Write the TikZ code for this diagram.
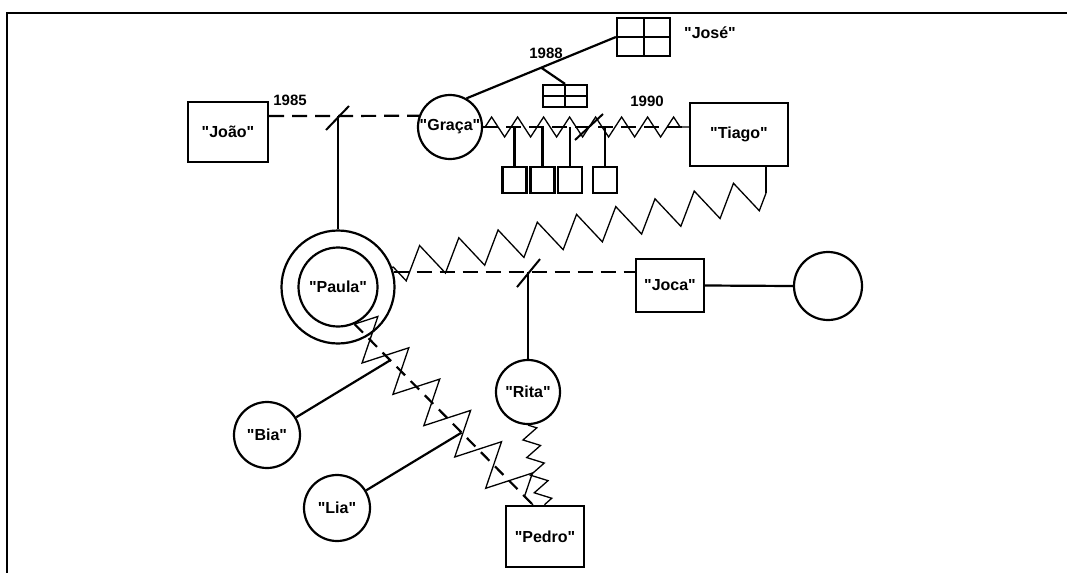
\documentclass[tikz,border=0pt]{standalone}
\usepackage{fontspec}
\newfontfamily\lblfont{Liberation Sans}
\usetikzlibrary{calc,decorations.pathmorphing}

\begin{document}
\begin{tikzpicture}[
  x=1pt, y=-1pt,
  font=\lblfont\bfseries\fontsize{16}{18}\selectfont,
  line width=2.2pt,
  man/.style={draw, rectangle, inner sep=0pt},
  woman/.style={draw, circle, inner sep=0pt},
  kid/.style={man, minimum width=24pt, minimum height=26pt},
  quad/.style={man, path picture={\draw[line width=2pt]
      (path picture bounding box.north) -- (path picture bounding box.south)
      (path picture bounding box.west) -- (path picture bounding box.east);}},
  marr/.style={dash pattern=on 15pt off 8pt},
  marrb/.style={dash pattern=on 12pt off 8pt},
  splitmark/.style={line width=2pt},
  conf/.style={line width=1.3pt, decorate, decoration={zigzag, #1}},
  conf/.default={segment length=28pt, amplitude=9pt},
  yr/.style={font=\lblfont\bfseries\fontsize{15}{17}\selectfont},
]
\useasboundingbox (0,0) rectangle (1067,573);

% frame
\draw[line width=2.6pt] (1067,13) -- (7,13) -- (7,573);

% ============ first generation ============
\node[man, minimum width=80pt, minimum height=60pt] (joao) at (228,132) {"João"};
\node[woman, minimum size=64pt] (graca) at (450,127) {"Graça"};
\node[man, minimum width=98pt, minimum height=63pt] (tiago) at (739,134.5) {"Tiago"};
\node[quad, minimum width=53pt, minimum height=38pt] (jose) at (643.5,37) {};
\node (josel) at (710,33) {"José"};

% ============ second generation ============
\node[woman, minimum size=113pt] (paula) at (338,287) {};
\node[woman, minimum size=79pt] (paulaIn) at (338,287) {"Paula"};
\node[man, minimum width=68pt, minimum height=53pt] (joca) at (670,285.5) {"Joca"};
\node[woman, minimum size=68pt] (spouse) at (828,286) {};

% ============ third generation ============
\node[woman, minimum size=64pt] (rita) at (528,392) {"Rita"};
\node[woman, minimum size=66pt] (bia) at (267,435) {"Bia"};
\node[woman, minimum size=66pt] (lia) at (337,508) {"Lia"};
\node[man, minimum width=78pt, minimum height=61pt] (pedro) at (545,536.5) {"Pedro"};

% ---------------- João + Graça (1985) ----------------
\coordinate (m85) at (338,116);
\draw[marr] (joao.east |- m85) -- (m85) -- (graca.160);
\draw[splitmark] ($(m85)+(-12,14)$) -- ($(m85)+(11,-10)$);
\draw (m85) -- (paula.north);
\node[yr] (y85) at (290,100) {1985};

% ---------------- Graça + José (1988) ----------------
\draw (graca.60) -- coordinate[pos=0.5] (m88) (jose.west);
\node[quad, minimum width=44pt, minimum height=22pt] (twins) at (565,96) {};
\draw (m88) -- (twins.north);
\node[yr] (y88) at (546,53) {1988};

% ---------------- Graça + Tiago (1990) ----------------
\draw[marr] (graca.east) -- (graca.east -| tiago.west);
\draw[conf={segment length=26pt, amplitude=10pt}] ([xshift=2pt]graca.east) -- (graca.east -| tiago.west);
\coordinate (m90) at (589,127);
\draw[splitmark] ($(m90)+(-14,13)$) -- ($(m90)+(14,-13)$);
\node[yr] (y90) at (647,101) {1990};
\foreach \x/\n in {514.5/k1, 542.5/k2, 570/k3, 605/k4}{
  \node[kid] (\n) at (\x,180) {};
  \draw (\n.north) -- (\n.north |- graca.east);
}

% ---------------- Tiago ~ Paula ----------------
\draw[line width=1.3pt] ([xshift=27pt]tiago.south) -- ++(0,26) coordinate (tz);
\draw[conf={segment length=40pt, amplitude=16pt}] (tz) -- (paula.20);

% ---------------- Paula + Joca ----------------
\draw[marr] (paula.15) -- (paula.15 -| joca.west);
\coordinate (mRita) at (rita |- paula.15);
\draw[splitmark] ($(mRita)+(-11,15)$) -- ($(mRita)+(12,-13)$);
\draw (mRita) -- (rita.north);
\draw (joca.east) -- (spouse.west);

% ---------------- Paula + Pedro ----------------
\draw[marrb] (paulaIn.-66) -- coordinate[pos=0.2] (mBia) coordinate[pos=0.6] (mLia)
  ([xshift=-12pt]pedro.north);
\draw[conf={segment length=44pt, amplitude=22pt}] (paulaIn.-66) -- ([xshift=-12pt]pedro.north);
\draw (bia) -- (mBia);
\draw (lia) -- (mLia);
\draw[conf={segment length=18pt, amplitude=8pt}] (rita.south) -- (pedro.north);

\end{tikzpicture}
\end{document}
